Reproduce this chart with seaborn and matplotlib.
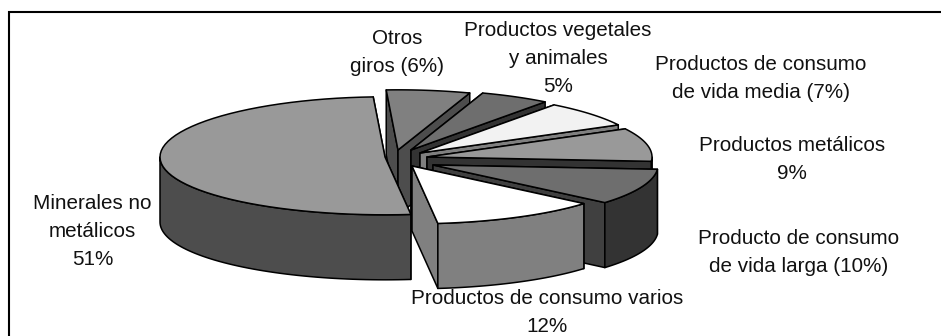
import numpy as np
import matplotlib
matplotlib.use("Agg")
import matplotlib.pyplot as plt
import seaborn as sns

categories = ["Otros giros", "Productos vegetales y animales",
              "Productos de consumo de vida media", "Productos metálicos",
              "Producto de consumo de vida larga", "Productos de consumo varios",
              "Minerales no metálicos"]
values = [6, 5, 7, 9, 10, 12, 51]
labels = ["Otros\ngiros (6%)", "Productos vegetales\ny animales\n5%",
          "Productos de consumo\nde vida media (7%)", "Productos metálicos\n9%",
          "Producto de consumo\nde vida larga (10%)", "Productos de consumo varios\n12%",
          "Minerales no\nmetálicos\n51%"]

# styling and layout (pixel space of the figure)
top_colors = ["#808080", "#6e6e6e", "#f2f2f2", "#999999", "#6e6e6e", "#ffffff", "#999999"]
rim_colors = ["#404040", "#333333", "#808080", "#404040", "#333333", "#808080", "#4d4d4d"]
cut_colors = ["#4d4d4d", "#333333", "#808080", "#333333", "#404040", "#808080", "#4d4d4d"]
apexes = [(398, 150), (411, 150), (420, 153), (427, 157), (433, 165), (412, 166), (385, 157)]
label_pos = [(397, 52.5), (558, 58.5), (761, 78), (792, 159.5), (798.5, 252.5), (547, 313), (92.5, 231.5)]
A, B, DEPTH, PERSP, START = 225, 59, 65, 0.02, -3.0

sns.set_theme(style="white", font="Liberation Sans")
plt.rcParams["font.family"] = ["Liberation Sans", "DejaVu Sans"]
fig = plt.figure(figsize=(9.41, 3.36), dpi=100, facecolor="white")
ax = fig.add_axes([0, 0, 1, 1])
ax.set_xlim(0, 941)
ax.set_ylim(336, 0)
ax.axis("off")


def rim(apex, t0, t1, n=60):
    t = np.radians(np.linspace(t0, t1, n))
    s = -np.cos(t)
    return apex[0] + A * np.sin(t), apex[1] + B * s * (1 + PERSP * -s)


def face(xs, ys, color, z):
    ax.fill(xs, ys, facecolor=color, edgecolor="black", linewidth=1.1,
            joinstyle="round", zorder=z)


edges = START + np.concatenate([[0], np.cumsum(values)]) * 360.0 / sum(values)
for i, val in enumerate(values):
    t0, t1 = edges[i], edges[i + 1]
    ap = apexes[i]
    x, y = rim(ap, t0, t1)
    z = 10 + i * 5
    # cut faces
    for xe, ye, off in ((x[0], y[0], 0), (x[-1], y[-1], 1)):
        face([ap[0], xe, xe, ap[0]], [ap[1], ye, ye + DEPTH, ap[1] + DEPTH], cut_colors[i], z + off)
    # outer rim, visible on the front half
    lo, hi = max(t0, 90), min(t1, 270)
    if hi > lo:
        xr, yr = rim(ap, lo, hi)
        face(np.r_[xr, xr[::-1]], np.r_[yr, yr[::-1] + DEPTH], rim_colors[i], z + 2)
    # top
    face(np.r_[ap[0], x], np.r_[ap[1], y], top_colors[i], z + 3)

for txt, (lx, ly) in zip(labels, label_pos):
    ax.text(lx, ly, txt, ha="center", va="center", fontsize=14.9, color="#111111",
            linespacing=1.6, zorder=60)

ax.plot([9, 9, 941], [336, 12, 12], color="black", lw=1.5, solid_joinstyle="miter", zorder=1)
fig.savefig("out.png", dpi=100)
